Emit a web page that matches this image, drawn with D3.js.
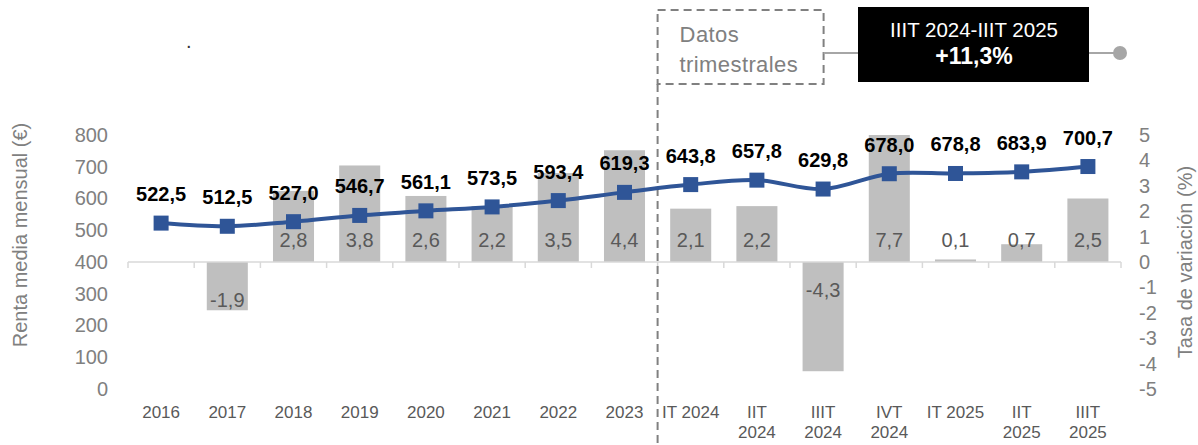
<!DOCTYPE html>
<html>
<head>
<meta charset="utf-8">
<script src="https://cdn.jsdelivr.net/npm/d3@7"></script>
<style>
  html, body { margin: 0; padding: 0; background: #fff; }
  svg { display: block; font-family: "Liberation Sans", Arial, sans-serif; }
</style>
</head>
<body>
<svg id="chart" width="1198" height="445"></svg>
<script>
// Periods on the x axis (annual, then quarterly)
const categories = ["2016", "2017", "2018", "2019", "2020", "2021", "2022", "2023",
  "IT 2024", "IIT 2024", "IIIT 2024", "IVT 2024", "IT 2025", "IIT 2025", "IIIT 2025"];
// Average monthly rent (€), left axis
const rentValues = [522.5, 512.5, 527.0, 546.7, 561.1, 573.5, 593.4, 619.3,
  643.8, 657.8, 629.8, 678.0, 678.8, 683.9, 700.7];
// Rate of change (%), right axis
const changeValues = [null, -1.9, 2.8, 3.8, 2.6, 2.2, 3.5, 4.4,
  2.1, 2.2, -4.3, 7.7, 0.1, 0.7, 2.5];
const leftTicks = [0, 100, 200, 300, 400, 500, 600, 700, 800];
const rightTicks = [-5, -4, -3, -2, -1, 0, 1, 2, 3, 4, 5];
const firstQuarterly = "IT 2024";
const boxTitle = "Datos trimestrales";
const calloutPeriod = "IIIT 2024-IIIT 2025";
const calloutChange = "+11,3%";

// Spanish decimal comma, plain hyphen for negatives
const fmt = v => v.toFixed(1).replace(".", ",");
const svg = d3.select("#chart");

const x = d3.scaleBand().domain(categories).range([128, 1121])
  .paddingInner(0.38).paddingOuter(0.19);
const yL = d3.scaleLinear().domain([0, 800]).range([389, 135]);
const yR = d3.scaleLinear().domain([-5, 5]).range([389, 135]).clamp(true);
const cx = d => x(d) + x.bandwidth() / 2;

// Bars: rate of change
const barData = categories.map((c, i) => ({ c, v: changeValues[i] })).filter(d => d.v !== null);
svg.append("g").selectAll("rect").data(barData).join("rect")
  .attr("x", d => x(d.c))
  .attr("width", x.bandwidth())
  .attr("y", d => Math.min(yR(d.v), yR(0)))
  .attr("height", d => Math.abs(yR(d.v) - yR(0)))
  .attr("fill", "#bfbfbf");

// Category axis along the zero line
const step = x.step();
const xAxis = svg.append("g").attr("transform", `translate(0,${yR(0)})`);
xAxis.append("line").attr("x1", x.range()[0]).attr("x2", x.range()[1])
  .attr("stroke", "#d9d9d9").attr("stroke-width", 1.5);
xAxis.selectAll("line.tick").data(d3.range(categories.length + 1)).join("line")
  .attr("class", "tick")
  .attr("x1", i => x.range()[0] + i * step).attr("x2", i => x.range()[0] + i * step)
  .attr("y1", 0).attr("y2", 6)
  .attr("stroke", "#d9d9d9").attr("stroke-width", 1.5);

// Category labels, wrapped when wider than the band
const xl = svg.append("g").selectAll("text").data(categories).join("text")
  .attr("x", d => cx(d)).attr("y", 418)
  .attr("text-anchor", "middle").attr("font-size", 17).attr("fill", "#595959")
  .text(d => d);
xl.each(function(d) {
  const t = d3.select(this);
  if (this.getComputedTextLength() > step * 0.9) {
    const words = d.split(" ");
    t.text(null);
    words.forEach((w, k) => t.append("tspan").attr("x", cx(d)).attr("dy", k ? 20 : 0).text(w));
  }
});

// Left axis
const gl = svg.append("g").attr("transform", "translate(108,0)")
  .call(d3.axisLeft(yL).tickValues(leftTicks).tickFormat(d => String(d)).tickSize(0).tickPadding(0));
gl.select(".domain").remove();
gl.selectAll("text").attr("font-size", 20).attr("fill", "#808080")
  .attr("font-family", "Liberation Sans, Arial, sans-serif");

// Right axis
const gr = svg.append("g").attr("transform", "translate(1139,0)")
  .call(d3.axisRight(yR).tickValues(rightTicks).tickFormat(d => String(d)).tickSize(0).tickPadding(0));
gr.select(".domain").remove();
gr.selectAll("text").attr("font-size", 20).attr("fill", "#808080")
  .attr("font-family", "Liberation Sans, Arial, sans-serif");

// Axis titles
svg.append("text").attr("transform", "translate(27,235) rotate(-90)")
  .attr("text-anchor", "middle").attr("font-size", 20).attr("fill", "#808080")
  .text("Renta media mensual (€)");
svg.append("text").attr("transform", "translate(1192,262) rotate(-90)")
  .attr("text-anchor", "middle").attr("font-size", 20).attr("fill", "#808080")
  .text("Tasa de variación (%)");

// Bar value labels: positive ones just above the base; negative ones at the
// bar end when the bar is short, otherwise just below the base
const labelY = d => {
  const base = yR(0), end = yR(d.v);
  if (d.v >= 0) return base - 15;
  return (end - base) < 60 ? end - 3 : base + 35;
};
svg.append("g").selectAll("text").data(barData).join("text")
  .attr("x", d => cx(d.c))
  .attr("y", labelY)
  .attr("text-anchor", "middle").attr("font-size", 20).attr("fill", "#595959")
  .text(d => fmt(d.v));

// Quarterly section: dashed separator and label box
const sepX = x(firstQuarterly) - x.step() * x.paddingInner() / 2;
const dash = "8,5";
svg.append("line").attr("x1", sepX).attr("x2", sepX).attr("y1", 84).attr("y2", 445)
  .attr("stroke", "#808080").attr("stroke-width", 2).attr("stroke-dasharray", dash);
svg.append("rect").attr("x", sepX).attr("y", 10).attr("width", 166).attr("height", 74)
  .attr("fill", "none").attr("stroke", "#808080").attr("stroke-width", 2)
  .attr("stroke-dasharray", dash);
const bt = svg.append("text").attr("font-size", 22).attr("letter-spacing", 0.4).attr("fill", "#808080");
boxTitle.split(" ").forEach((w, k) =>
  bt.append("tspan").attr("x", sepX + 22).attr("y", 42 + k * 30).text(w));

// Callout with year-on-year change
svg.append("line").attr("x1", sepX + 166).attr("x2", 1120).attr("y1", 53).attr("y2", 53)
  .attr("stroke", "#a6a6a6").attr("stroke-width", 2);
svg.append("circle").attr("cx", 1120).attr("cy", 53).attr("r", 7).attr("fill", "#a6a6a6");
svg.append("rect").attr("x", 858).attr("y", 7).attr("width", 231).attr("height", 75).attr("fill", "#000");
svg.append("text").attr("x", 974).attr("y", 37).attr("text-anchor", "middle")
  .attr("font-size", 20.5).attr("fill", "#fff").text(calloutPeriod);
svg.append("text").attr("x", 974).attr("y", 64).attr("text-anchor", "middle")
  .attr("font-size", 23).attr("font-weight", "bold").attr("fill", "#fff").text(calloutChange);

svg.append("text").attr("x", 186).attr("y", 48).attr("font-size", 20).attr("fill", "#333").text(".");

// Rent line with square markers
const pts = categories.map((c, i) => ({ c, v: rentValues[i] }));
svg.append("path").datum(pts)
  .attr("d", d3.line().x(d => cx(d.c)).y(d => yL(d.v)).curve(d3.curveCatmullRom.alpha(0.5)))
  .attr("fill", "none").attr("stroke", "#2f5597").attr("stroke-width", 4);
const ms = 15;
svg.append("g").selectAll("rect").data(pts).join("rect")
  .attr("x", d => cx(d.c) - ms / 2).attr("y", d => yL(d.v) - ms / 2)
  .attr("width", ms).attr("height", ms).attr("fill", "#2f5597");

// Rent value labels
svg.append("g").selectAll("text").data(pts).join("text")
  .attr("x", d => cx(d.c)).attr("y", d => yL(d.v) - 22)
  .attr("text-anchor", "middle").attr("font-size", 20).attr("font-weight", "bold")
  .attr("fill", "#000").text(d => fmt(d.v));
</script>
</body>
</html>
